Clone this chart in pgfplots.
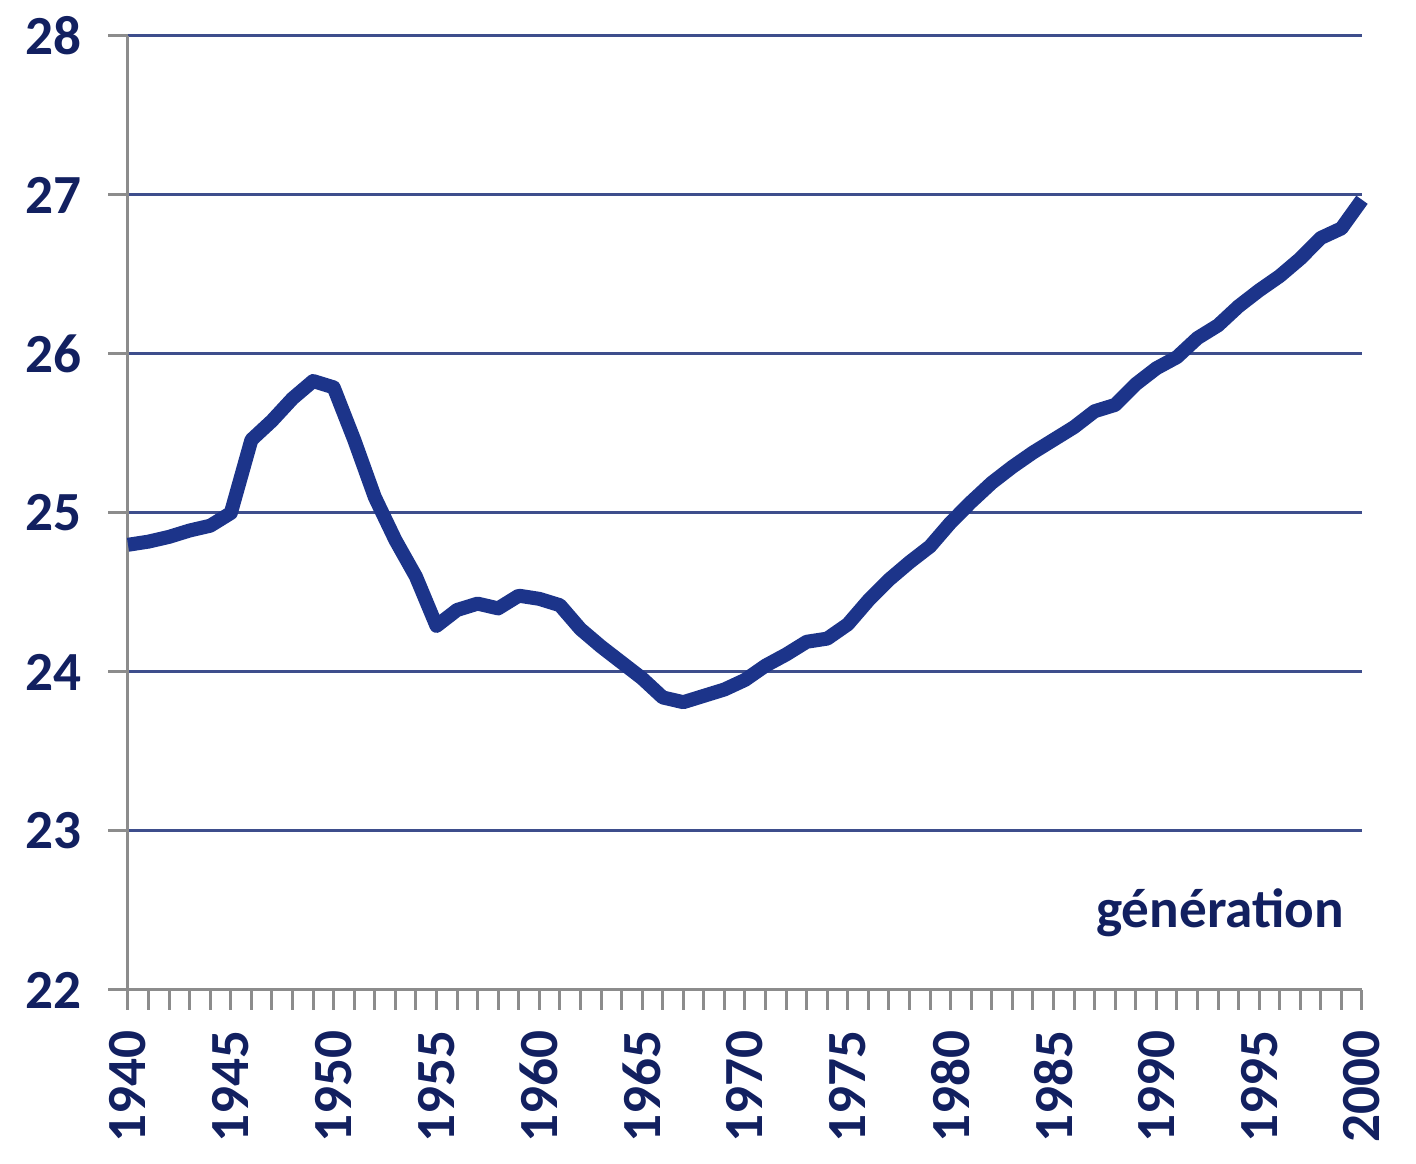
\documentclass[border=0pt]{standalone}
\usepackage{fontspec}
\setmainfont{Carlito}
\usepackage{pgfplots}
\pgfplotsset{compat=1.18}
\definecolor{navy}{RGB}{18,32,96}
\definecolor{lineblue}{RGB}{28,52,138}
\definecolor{gridblue}{RGB}{62,78,140}
\definecolor{axgray}{RGB}{140,140,140}
\begin{document}
\begin{tikzpicture}
\begin{axis}[
  at={(0pt,0pt)}, anchor=south west,
  scale only axis,
  width=308.5pt, height=238.5pt,
  xmin=1940, xmax=2000, ymin=22, ymax=28,
  axis lines=left,
  axis line style={-, draw=axgray, line width=0.75pt},
  xtick={1940,1945,...,2000},
  minor x tick num=4,
  ytick={22,23,...,28},
  tick align=outside,
  major tick length=5pt,
  minor tick length=5pt,
  tick style={draw=axgray, line width=0.75pt},
  ymajorgrids,
  major grid style={draw=gridblue, line width=0.75pt},
  /pgf/number format/assume math mode=true,
  /pgf/number format/1000 sep={},
  tick label style={font=\fontsize{13.8}{16}\selectfont\bfseries, text=navy},
  xticklabel style={rotate=90, anchor=east, xshift=0pt, yshift=0pt, inner xsep=5pt},
  yticklabel style={anchor=east, xshift=-3pt},
  clip=false,
]
\addplot[lineblue, line width=3.5pt, line join=round] coordinates {
(1940,24.80) (1941,24.82) (1942,24.85) (1943,24.89) (1944,24.92)
(1945,25.00) (1946,25.46) (1947,25.58) (1948,25.72) (1949,25.83)
(1950,25.79) (1951,25.46) (1952,25.10) (1953,24.83) (1954,24.60)
(1955,24.29) (1956,24.39) (1957,24.43) (1958,24.40) (1959,24.48)
(1960,24.46) (1961,24.42) (1962,24.27) (1963,24.16) (1964,24.06)
(1965,23.96) (1966,23.84) (1967,23.81) (1968,23.85) (1969,23.89)
(1970,23.95) (1971,24.04) (1972,24.11) (1973,24.19) (1974,24.21)
(1975,24.30) (1976,24.45) (1977,24.58) (1978,24.69) (1979,24.79)
(1980,24.94) (1981,25.07) (1982,25.19) (1983,25.29) (1984,25.38)
(1985,25.46) (1986,25.54) (1987,25.64) (1988,25.68) (1989,25.81)
(1990,25.91) (1991,25.98) (1992,26.10) (1993,26.18) (1994,26.30)
(1995,26.40) (1996,26.49) (1997,26.60) (1998,26.73) (1999,26.79)
(2000,26.97)
};
\node[anchor=base east, inner sep=0pt, text=navy, font=\fontsize{13.8}{16}\selectfont\bfseries]
  at (rel axis cs:0.986,0.065) {génération};
\end{axis}
\pgfresetboundingbox
\path[use as bounding box] (-32pt,-43.5pt) rectangle (322pt,247.5pt);
\end{tikzpicture}
\end{document}
